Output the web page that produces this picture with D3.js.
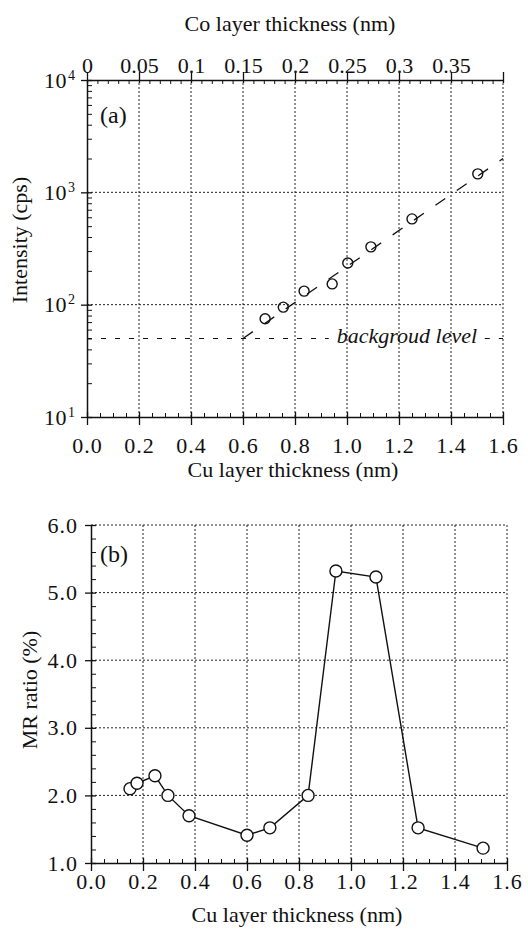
<!DOCTYPE html>
<html>
<head>
<meta charset="utf-8">
<script src="https://cdn.jsdelivr.net/npm/d3@7"></script>
<style>
  body { margin: 0; background: #fff; }
  svg { display: block; }
  svg text { font-family: "Liberation Serif", "DejaVu Serif", "Times New Roman", serif; fill: #111; }
</style>
</head>
<body>
<script>
// ---- data ----
// panel (a): intensity vs Cu thickness
const cuA = [0.685, 0.755, 0.835, 0.943, 1.003, 1.092, 1.25, 1.503];
const intensityA = [75, 95, 132, 153, 235, 327, 580, 1460];
const fitLine = [[0.6, 50], [1.6, 2000]];
const bgLevel = 50;
const bgSegments = [[0, 0.93], [1.53, 1.6]];
const cuTicks = [0, 0.2, 0.4, 0.6, 0.8, 1.0, 1.2, 1.4, 1.6];
const coTicks = [0, 0.05, 0.1, 0.15, 0.2, 0.25, 0.3, 0.35];
const logTicks = [10, 100, 1000, 10000];

// panel (b): MR ratio vs Cu thickness
const cuB = [0.15, 0.177, 0.246, 0.296, 0.377, 0.6, 0.688, 0.835, 0.942, 1.096, 1.258, 1.508];
const mrB = [2.1, 2.18, 2.29, 2.0, 1.7, 1.41, 1.52, 2.0, 5.32, 5.23, 1.52, 1.22];
const mrTicks = [1, 2, 3, 4, 5, 6];

const W = 528, H = 932;
const svg = d3.select("body").append("svg").attr("width", W).attr("height", H);

const fmt1 = d3.format(".1f");
const dotted = "2,2";

// make major ticks cross the axis line
function crossTicks(g, a, b, horiz) {
    g.selectAll(".tick line").attr(horiz ? "x1" : "y1", a).attr(horiz ? "x2" : "y2", b);
}

function styleAxis(g, spacing) {
    g.attr("font-family", null);
    g.select(".domain").attr("stroke", "#111").attr("stroke-width", 1.5);
    g.selectAll(".tick line").attr("stroke", "#111").attr("stroke-width", 1.3);
    g.selectAll(".tick text").attr("font-size", 22).attr("fill", "#111").attr("letter-spacing", spacing);
}

function minorTicks(g) {
    g.select(".domain").remove();
    g.selectAll("line").attr("stroke", "#111");
}

// ================= panel (a) =================
const xA = d3.scaleLinear().domain([0, 1.6]).range([87, 503]);
const xCo = d3.scaleLinear().domain([0, 0.4]).range([87, 503]);
const yA = d3.scaleLog().domain([10, 10000]).range([417, 80]);

const a = svg.append("g");

// grid
a.append("g").selectAll("line").data(cuTicks.slice(1)).join("line")
    .attr("x1", d => xA(d)).attr("x2", d => xA(d))
    .attr("y1", yA(10)).attr("y2", yA(10000))
    .attr("stroke", "#222").attr("stroke-dasharray", dotted);
a.append("g").selectAll("line").data([100, 1000]).join("line")
    .attr("x1", xA(0)).attr("x2", xA(1.6))
    .attr("y1", d => yA(d)).attr("y2", d => yA(d))
    .attr("stroke", "#222").attr("stroke-dasharray", dotted);

// bottom axis
const axBA = a.append("g").attr("transform", `translate(0,${yA(10)})`)
    .call(d3.axisBottom(xA).tickValues(cuTicks).tickFormat(fmt1).tickSizeOuter(0).tickPadding(14));
crossTicks(axBA, -5, 8, false);
styleAxis(axBA, 1);
a.append("g").attr("transform", `translate(0,${yA(10)})`)
    .call(d3.axisBottom(xA).tickValues(d3.range(0.05, 1.6, 0.05).filter(v => Math.abs(v * 5 - Math.round(v * 5)) > 1e-6))
        .tickSize(-4).tickFormat(""))
    .call(minorTicks);

// top axis (Co)
const axTA = a.append("g").attr("transform", `translate(0,${yA(10000)})`)
    .call(d3.axisTop(xCo).tickValues(coTicks.concat([0.4])).tickFormat(d => d < 0.39 ? String(+d.toFixed(2)) : "")
        .tickSizeOuter(0).tickPadding(1));
crossTicks(axTA, 3, -8, false);
styleAxis(axTA, 0);
a.append("g").attr("transform", `translate(0,${yA(10000)})`)
    .call(d3.axisTop(xCo).tickValues(d3.range(0.01, 0.4, 0.01).filter(v => Math.abs(v * 20 - Math.round(v * 20)) > 1e-6))
        .tickSize(-4).tickFormat(""))
    .call(minorTicks);

// left axis (log)
const axLA = a.append("g").attr("transform", `translate(${xA(0)},0)`)
    .call(d3.axisLeft(yA).tickValues(logTicks).tickFormat("").tickSizeOuter(0));
crossTicks(axLA, -6, 5, true);
styleAxis(axLA, 0);
axLA.selectAll(".tick").append("text")
    .attr("x", -20).attr("dy", "0.32em").attr("text-anchor", "end")
    .attr("font-size", 22).attr("letter-spacing", 0.5)
    .text("10");
axLA.selectAll(".tick").append("text")
    .attr("x", -19).attr("dy", "-0.05em").attr("text-anchor", "start")
    .attr("font-size", 14)
    .text(d => Math.round(Math.log10(d)));
axLA.selectAll("text").attr("fill", "#111");
const minorLog = [];
[10, 100, 1000].forEach(b => { for (let k = 2; k <= 9; k++) minorLog.push(b * k); });
a.append("g").attr("transform", `translate(${xA(0)},0)`)
    .call(d3.axisLeft(yA).tickValues(minorLog).tickSize(-5).tickFormat(""))
    .call(minorTicks);

// background level
a.append("g").selectAll("line").data(bgSegments).join("line")
    .attr("x1", d => xA(d[0])).attr("x2", d => xA(d[1]))
    .attr("y1", yA(bgLevel)).attr("y2", yA(bgLevel))
    .attr("stroke", "#111").attr("stroke-width", 1.2).attr("stroke-dasharray", "5,9");
a.append("text").attr("x", xA(0.93) + 8).attr("y", yA(bgLevel) + 5)
    .attr("font-size", 22).attr("font-style", "italic").text("backgroud level");

// fit line
a.append("path").datum(fitLine)
    .attr("d", d3.line().x(d => xA(d[0])).y(d => yA(d[1])))
    .attr("fill", "none").attr("stroke", "#111").attr("stroke-width", 1.3)
    .attr("stroke-dasharray", "12,14");

// data points
a.append("g").selectAll("circle").data(cuA.map((c, i) => [c, intensityA[i]])).join("circle")
    .attr("cx", d => xA(d[0])).attr("cy", d => yA(d[1])).attr("r", 5)
    .attr("fill", "none").attr("stroke", "#111").attr("stroke-width", 1.4);

a.append("text").attr("x", 100).attr("y", 123).attr("font-size", 24).text("(a)");

// titles
a.append("text").attr("x", 290).attr("y", 31).attr("text-anchor", "middle")
    .attr("font-size", 22).text("Co layer thickness (nm)");
a.append("text").attr("x", 293).attr("y", 477).attr("text-anchor", "middle")
    .attr("font-size", 22).text("Cu layer thickness (nm)");
a.append("text").attr("transform", "translate(27,240) rotate(-90)").attr("text-anchor", "middle")
    .attr("font-size", 22).text("Intensity (cps)");

// ================= panel (b) =================
const xB = d3.scaleLinear().domain([0, 1.6]).range([91, 507]);
const yB = d3.scaleLinear().domain([1, 6]).range([863, 525]);
const b = svg.append("g");

b.append("g").selectAll("line").data(cuTicks.slice(1)).join("line")
    .attr("x1", d => xB(d)).attr("x2", d => xB(d))
    .attr("y1", yB(1)).attr("y2", yB(6))
    .attr("stroke", "#222").attr("stroke-dasharray", dotted);
b.append("g").selectAll("line").data(mrTicks.slice(1)).join("line")
    .attr("x1", xB(0)).attr("x2", xB(1.6))
    .attr("y1", d => yB(d)).attr("y2", d => yB(d))
    .attr("stroke", "#222").attr("stroke-dasharray", dotted);

const axBB = b.append("g").attr("transform", `translate(0,${yB(1)})`)
    .call(d3.axisBottom(xB).tickValues(cuTicks).tickFormat(fmt1).tickSizeOuter(0).tickPadding(4));
crossTicks(axBB, -5, 8, false);
styleAxis(axBB, 1);
b.append("g").attr("transform", `translate(0,${yB(1)})`)
    .call(d3.axisBottom(xB).tickValues(d3.range(0.05, 1.6, 0.05).filter(v => Math.abs(v * 5 - Math.round(v * 5)) > 1e-6))
        .tickSize(-4).tickFormat(""))
    .call(minorTicks);

const axLB = b.append("g").attr("transform", `translate(${xB(0)},0)`)
    .call(d3.axisLeft(yB).tickValues(mrTicks).tickFormat(fmt1).tickSizeOuter(0).tickPadding(7));
crossTicks(axLB, -6, 5, true);
styleAxis(axLB, 1);
b.append("g").attr("transform", `translate(${xB(0)},0)`)
    .call(d3.axisLeft(yB).tickValues(d3.range(1.2, 6, 0.2).filter(v => Math.abs(v - Math.round(v)) > 1e-6))
        .tickSize(-5).tickFormat(""))
    .call(minorTicks);

const ptsB = cuB.map((c, i) => [c, mrB[i]]);
b.append("path").datum(ptsB)
    .attr("d", d3.line().x(d => xB(d[0])).y(d => yB(d[1])))
    .attr("fill", "none").attr("stroke", "#111").attr("stroke-width", 1.4);
b.append("g").selectAll("circle").data(ptsB).join("circle")
    .attr("cx", d => xB(d[0])).attr("cy", d => yB(d[1])).attr("r", 6)
    .attr("fill", "#fff").attr("stroke", "#111").attr("stroke-width", 1.4);

b.append("text").attr("x", 100).attr("y", 562).attr("font-size", 24).text("(b)");
b.append("text").attr("x", 297).attr("y", 922).attr("text-anchor", "middle")
    .attr("font-size", 22).text("Cu layer thickness (nm)");
b.append("text").attr("transform", "translate(37,690) rotate(-90)").attr("text-anchor", "middle")
    .attr("font-size", 22).text("MR ratio (%)");
</script>
</body>
</html>
